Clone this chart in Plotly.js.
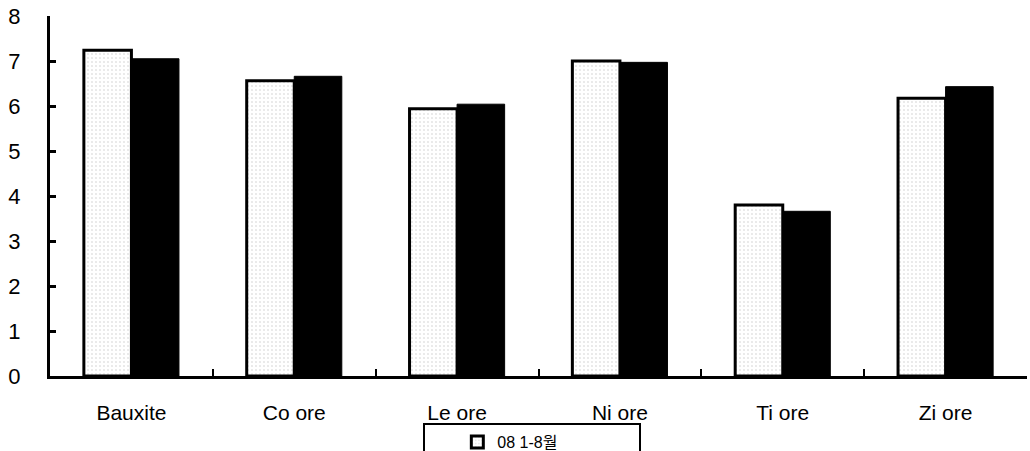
<!DOCTYPE html>
<html>
<head>
<meta charset="utf-8">
<script src="https://cdn.plot.ly/plotly-3.0.1.min.js"></script>
<style>html,body{margin:0;padding:0;background:#fff;}#chart{width:1030px;height:451px;}</style>
</head>
<body>
<div id="chart"></div>
<script>
const categories = ["Bauxite", "Co ore", "Le ore", "Ni ore", "Ti ore", "Zi ore"];
const series1Name = "08 1-8월";
const series1Values = [7.24, 6.56, 5.94, 7.0, 3.8, 6.17];
const series2Name = "";
const series2Values = [7.05, 6.66, 6.04, 6.97, 3.66, 6.43];
const yTicks = [0, 1, 2, 3, 4, 5, 6, 7, 8];

const traces = [
  {
    type: "bar",
    name: series1Name,
    x: categories,
    y: series1Values,
    marker: {
      color: "#f7f7f7",
      pattern: {shape: ".", bgcolor: "#ffffff", fgcolor: "#9a9a9a", size: 4, solidity: 0.12, fillmode: "overlay"},
      line: {color: "#000", width: 3}
    },
    showlegend: true
  },
  {
    type: "bar",
    name: series2Name,
    x: categories,
    y: series2Values,
    marker: {color: "#000", line: {color: "#000", width: 1}},
    showlegend: false
  }
];

const layout = {
  width: 1030,
  height: 451,
  margin: {l: 50, r: 3, t: 16, b: 75},
  paper_bgcolor: "#fff",
  plot_bgcolor: "#fff",
  barmode: "group",
  bargap: 0.416,
  bargroupgap: 0,
  font: {family: "Liberation Sans, Arial, sans-serif", color: "#000"},
  xaxis: {
    type: "category",
    showline: true,
    linecolor: "#000",
    linewidth: 3,
    ticks: "inside",
    tickson: "boundaries",
    ticklen: 7,
    tickwidth: 2,
    tickcolor: "#000",
    showgrid: false,
    ticklabelstandoff: 16,
    tickfont: {family: "Liberation Sans, Arial, sans-serif", size: 21, color: "#000"},
    zeroline: false,
    automargin: false
  },
  yaxis: {
    range: [0, 8],
    tickvals: yTicks,
    showline: true,
    linecolor: "#000",
    linewidth: 3,
    ticks: "inside",
    ticklen: 6,
    tickwidth: 3,
    tickcolor: "#000",
    showgrid: false,
    zeroline: false,
    automargin: false,
    ticklabelstandoff: 22,
    tickfont: {family: "Liberation Sans, Arial, sans-serif", size: 22, color: "#000"}
  },
  showlegend: true,
  legend: {
    orientation: "h",
    xref: "container",
    yref: "container",
    x: 0.411,
    xanchor: "left",
    y: 0.062,
    yanchor: "top",
    bordercolor: "#000",
    borderwidth: 2,
    bgcolor: "#fff",
    indentation: 32,
    entrywidth: 137,
    itemwidth: 30,
    font: {family: "Liberation Sans, Noto Sans CJK KR, sans-serif", size: 16, color: "#000"}
  }
};

Plotly.newPlot("chart", traces, layout, {displayModeBar: false, staticPlot: true});
</script>
</body>
</html>
